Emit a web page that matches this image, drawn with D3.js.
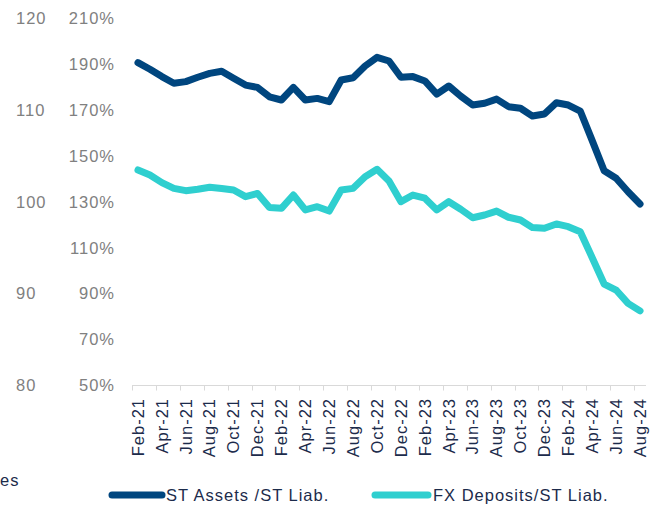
<!DOCTYPE html>
<html>
<head>
<meta charset="utf-8">
<script src="https://cdn.jsdelivr.net/npm/d3@7"></script>
<style>
  html, body { margin: 0; padding: 0; background: #fff; }
  svg { display: block; font-family: "Liberation Sans", Arial, sans-serif; }
</style>
</head>
<body>
<svg id="chart" width="654" height="514"></svg>
<script>
const months = ["Feb-21","Mar-21","Apr-21","May-21","Jun-21","Jul-21","Aug-21","Sep-21","Oct-21","Nov-21","Dec-21",
  "Jan-22","Feb-22","Mar-22","Apr-22","May-22","Jun-22","Jul-22","Aug-22","Sep-22","Oct-22","Nov-22","Dec-22",
  "Jan-23","Feb-23","Mar-23","Apr-23","May-23","Jun-23","Jul-23","Aug-23","Sep-23","Oct-23","Nov-23","Dec-23",
  "Jan-24","Feb-24","Mar-24","Apr-24","May-24","Jun-24","Jul-24","Aug-24"];

const stAssets = [190.7,187.8,184.6,181.7,182.4,184.3,186.0,186.9,183.9,180.9,179.9,
  175.8,174.4,179.9,174.4,175.1,173.7,183.1,184.1,189.2,193.0,191.4,184.3,
  184.6,182.7,177.0,180.5,176.1,172.2,173.0,174.8,171.5,170.8,167.4,168.3,
  173.2,172.2,169.6,156.7,143.6,140.3,134.4,129.1];

const fxDeposits = [143.9,141.7,138.4,135.9,134.9,135.5,136.4,135.8,135.2,132.3,133.7,
  127.6,127.2,133.0,126.5,127.9,126.0,135.2,135.9,141.0,144.2,139.1,130.1,
  133.0,131.6,126.5,130.1,126.8,123.1,124.3,126.0,123.3,122.1,118.8,118.5,
  120.4,119.2,117.0,105.7,94.2,91.6,85.8,82.5];

const pctTicks = [50,70,90,110,130,150,170,190,210];
const indexTicks = [80,90,100,110,120];
const seriesNames = ["ST Assets /ST Liab.", "FX Deposits/ST Liab."];
const seriesColors = ["#00467f", "#2fcfcf"];

const svg = d3.select("#chart");
const yTop = 18.3, yBot = 385.5;
const x = d3.scaleBand().domain(months).range([132, 646]).paddingInner(0).paddingOuter(0);
const y = d3.scaleLinear().domain([50, 210]).range([yBot, yTop]);
const y2 = d3.scaleLinear().domain([80, 120]).range([yBot, yTop]);
const labelMonths = months.filter((d, i) => i % 2 === 0);

// left outer index axis
const ax2 = svg.append("g").attr("transform", "translate(16,0)")
  .call(d3.axisRight(y2).tickValues(indexTicks).tickSize(0).tickPadding(0).tickFormat(d3.format("d")));
ax2.select(".domain").remove();
ax2.selectAll("text").attr("fill", "#808080").attr("font-size", "16.5px")
  .attr("letter-spacing", "1px").attr("font-family", null);

// percent axis
const ax1 = svg.append("g").attr("transform", "translate(117,0)")
  .call(d3.axisLeft(y).tickValues(pctTicks).tickSize(0).tickPadding(2).tickFormat(d => d + "%"));
ax1.select(".domain").remove();
ax1.selectAll("text").attr("fill", "#808080").attr("font-size", "16.5px")
  .attr("letter-spacing", "1px").attr("font-family", null);

// x axis baseline and boundary ticks
svg.append("line").attr("x1", x.range()[0]).attr("x2", x.range()[1])
  .attr("y1", yBot).attr("y2", yBot).attr("stroke", "#d9d9d9").attr("stroke-width", 1);
svg.append("g").selectAll("line").data(labelMonths).join("line")
  .attr("x1", d => Math.round(x(d)) + 0.5).attr("x2", d => Math.round(x(d)) + 0.5)
  .attr("y1", yBot).attr("y2", yBot + 5).attr("stroke", "#d9d9d9");

// x labels
const axX = svg.append("g").attr("transform", `translate(0,${yBot})`)
  .call(d3.axisBottom(x).tickValues(labelMonths).tickSize(0));
axX.select(".domain").remove();
axX.selectAll("text")
  .attr("font-family", null).attr("font-size", "16.5px").attr("letter-spacing", "1px")
  .attr("fill", "#1c2b4b")
  .attr("text-anchor", "end")
  .attr("transform", "rotate(-90)")
  .attr("x", -12.5).attr("y", 0).attr("dy", "0.35em");

// lines
const line = d3.line().x((d, i) => x(months[i]) + x.bandwidth() / 2).y(d => y(d));
[fxDeposits, stAssets].forEach((s, k) => {
  svg.append("path").datum(s).attr("d", line).attr("fill", "none")
    .attr("stroke", seriesColors[1 - k]).attr("stroke-width", 7)
    .attr("stroke-linejoin", "round").attr("stroke-linecap", "round");
});

// cut-off text at left
svg.append("text").attr("x", 0).attr("y", 480).attr("dy", "0.35em")
  .attr("font-size", "16.5px").attr("letter-spacing", "1px").attr("fill", "#1c2b4b").text("es");

// legend
const legendItems = [
  { name: seriesNames[0], color: seriesColors[0], x1: 112, x2: 162, tx: 166 },
  { name: seriesNames[1], color: seriesColors[1], x1: 375, x2: 428, tx: 433 }
];
const lg = svg.append("g");
legendItems.forEach(it => {
  lg.append("line").attr("x1", it.x1).attr("x2", it.x2).attr("y1", 495).attr("y2", 495)
    .attr("stroke", it.color).attr("stroke-width", 7).attr("stroke-linecap", "round");
  lg.append("text").attr("x", it.tx).attr("y", 495).attr("dy", "0.35em")
    .attr("font-size", "16.5px").attr("letter-spacing", "1px").attr("fill", "#1c2b4b").text(it.name);
});
</script>
</body>
</html>
